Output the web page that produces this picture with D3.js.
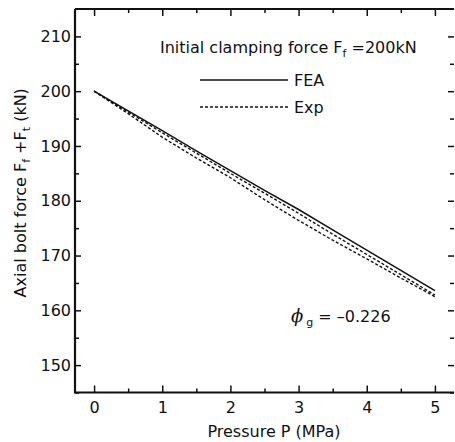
<!DOCTYPE html>
<html>
<head>
<meta charset="utf-8">
<script src="https://cdn.jsdelivr.net/npm/d3@7"></script>
<style>
body { margin: 0; background: #fff; }
text { font-family: "DejaVu Sans", sans-serif; fill: #111; }
</style>
</head>
<body>
<div id="chart"></div>
<script>
// data
const pressure = [0, 0.5, 1, 1.5, 2, 2.5, 3, 3.5, 4, 4.5, 5];
const fea = [200, 196.4, 192.8, 189.1, 185.5, 181.9, 178.4, 174.7, 171.0, 167.3, 163.6];
const exp_upper = [200, 196.2, 192.4, 188.7, 185.0, 181.4, 177.7, 173.9, 170.2, 166.5, 162.8];
const exp_lower = [200, 195.9, 191.6, 187.8, 184.2, 180.2, 176.4, 172.8, 169.4, 165.9, 162.5];
const x_ticks = [0, 1, 2, 3, 4, 5];
const y_ticks = [150, 160, 170, 180, 190, 200, 210];

const W = 455, H = 442;
const margins = { top: 9, right: 1, bottom: 50, left: 75 };

const x_scale = d3.scaleLinear().domain([-0.28, 5.28]).range([margins.left, W - margins.right]);
const y_scale = d3.scaleLinear().domain([145, 215]).range([H - margins.bottom + 0.5, margins.top]);

const svg = d3.select("#chart").append("svg")
	.attr("width", W).attr("height", H);

const x_minor = d3.range(0, 5.01, 0.5).filter(d => d % 1 !== 0);
const y_minor = d3.range(145, 215, 10);

const y_bot = y_scale.range()[0], y_top = y_scale.range()[1];
const x_left = x_scale.range()[0], x_right = x_scale.range()[1];

// axes (ticks pointing inward)
svg.append("g").attr("transform", `translate(0,${y_bot})`)
	.call(d3.axisBottom(x_scale).tickValues(x_ticks).tickSizeInner(-7).tickSizeOuter(0).tickPadding(9).tickFormat(d3.format("d")));
svg.append("g").attr("transform", `translate(0,${y_bot})`)
	.call(d3.axisBottom(x_scale).tickValues(x_minor).tickSizeInner(-4).tickSizeOuter(0).tickFormat(""));
svg.append("g").attr("transform", `translate(0,${y_top})`)
	.call(d3.axisTop(x_scale).tickValues(x_ticks).tickSizeInner(-7).tickSizeOuter(0).tickFormat(""));
svg.append("g").attr("transform", `translate(0,${y_top})`)
	.call(d3.axisTop(x_scale).tickValues(x_minor).tickSizeInner(-4).tickSizeOuter(0).tickFormat(""));

svg.append("g").attr("transform", `translate(${x_left},0)`)
	.call(d3.axisLeft(y_scale).tickValues(y_ticks).tickSizeInner(-6).tickSizeOuter(0).tickPadding(4));
svg.append("g").attr("transform", `translate(${x_left},0)`)
	.call(d3.axisLeft(y_scale).tickValues(y_minor).tickSizeInner(-4).tickSizeOuter(0).tickFormat(""));
svg.append("g").attr("transform", `translate(${x_right},0)`)
	.call(d3.axisRight(y_scale).tickValues(y_ticks).tickSizeInner(-6).tickSizeOuter(0).tickFormat(""));
svg.append("g").attr("transform", `translate(${x_right},0)`)
	.call(d3.axisRight(y_scale).tickValues(y_minor).tickSizeInner(-4).tickSizeOuter(0).tickFormat(""));

svg.selectAll(".domain").remove();
svg.selectAll(".tick line").attr("stroke", "#111").attr("stroke-width", 1.5);
svg.selectAll(".tick text").attr("font-size", 16).attr("fill", "#111")
	.attr("font-family", "'DejaVu Sans', sans-serif");

// frame
svg.append("path")
	.attr("d", `M${x_left},${y_top}H${x_right}M${x_left},${y_top}V${y_bot}H${x_right}`)
	.attr("fill", "none").attr("stroke", "#111").attr("stroke-width", 2.2);

// lines
const line = d3.line()
	.x((d, i) => x_scale(pressure[i]))
	.y(d => y_scale(d));

svg.append("path").datum(exp_lower).attr("d", line)
	.attr("fill", "none").attr("stroke", "#111").attr("stroke-width", 1.4).attr("stroke-dasharray", "3,2");
svg.append("path").datum(exp_upper).attr("d", line)
	.attr("fill", "none").attr("stroke", "#111").attr("stroke-width", 1.4).attr("stroke-dasharray", "3,2");
svg.append("path").datum(fea).attr("d", line)
	.attr("fill", "none").attr("stroke", "#111").attr("stroke-width", 1.5);

// legend
const legend = svg.append("g");
const title = legend.append("text").attr("x", 160).attr("y", 53).attr("font-size", 16);
title.append("tspan").text("Initial clamping force F");
title.append("tspan").attr("font-size", 11).attr("dy", 4).text("f");
title.append("tspan").attr("dy", -4).text(" =200kN");

legend.append("line").attr("x1", 200).attr("x2", 288).attr("y1", 80).attr("y2", 80)
	.attr("stroke", "#111").attr("stroke-width", 1.5);
legend.append("text").attr("x", 294).attr("y", 86).attr("font-size", 16).text("FEA");
legend.append("line").attr("x1", 200).attr("x2", 288).attr("y1", 107).attr("y2", 107)
	.attr("stroke", "#111").attr("stroke-width", 1.4).attr("stroke-dasharray", "3,2");
legend.append("text").attr("x", 294).attr("y", 113).attr("font-size", 16).text("Exp");

// phi annotation
const phi = svg.append("text").attr("x", 291).attr("y", 322).attr("font-size", 16);
phi.append("tspan").attr("font-style", "italic").attr("font-family", "'DejaVu Serif', serif").attr("font-size", 18).text("\u03D5");
phi.append("tspan").attr("font-size", 11).attr("dx", 3).attr("dy", 4).text("g");
phi.append("tspan").attr("dy", -4).text(" = \u20130.226");

// axis titles
svg.append("text").attr("x", 274).attr("y", 437)
	.attr("text-anchor", "middle").attr("font-size", 16).text("Pressure P (MPa)");

const ylab = svg.append("text")
	.attr("transform", `translate(26,${(y_top + y_bot) / 2 - 8}) rotate(-90)`)
	.attr("text-anchor", "middle").attr("font-size", 16);
ylab.append("tspan").text("Axial bolt force F");
ylab.append("tspan").attr("font-size", 11).attr("dy", 4).text("f");
ylab.append("tspan").attr("dy", -4).text(" +F");
ylab.append("tspan").attr("font-size", 11).attr("dy", 4).text("t");
ylab.append("tspan").attr("dy", -4).text(" (kN)");
</script>
</body>
</html>
